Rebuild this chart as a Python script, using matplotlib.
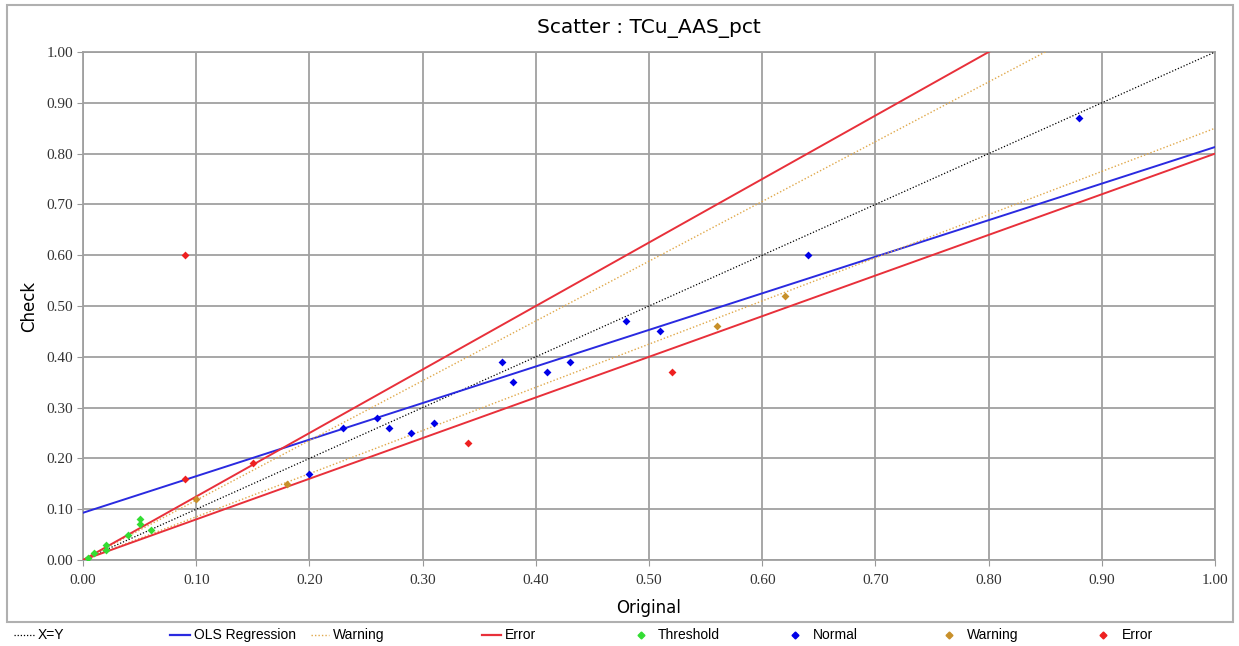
import matplotlib
matplotlib.use("Agg")
import matplotlib.pyplot as plt
from matplotlib.patches import Rectangle
import numpy as np

# scatter data
threshold_x = [0.004, 0.01, 0.02, 0.02, 0.04, 0.05, 0.05, 0.06]
threshold_y = [0.004, 0.013, 0.02, 0.03, 0.05, 0.07, 0.08, 0.06]

normal_x = [0.20, 0.23, 0.26, 0.27, 0.29, 0.31, 0.37, 0.38, 0.41, 0.43, 0.48, 0.51, 0.64, 0.88]
normal_y = [0.17, 0.26, 0.28, 0.26, 0.25, 0.27, 0.39, 0.35, 0.37, 0.39, 0.47, 0.45, 0.60, 0.87]

warning_x = [0.10, 0.18, 0.56, 0.62]
warning_y = [0.12, 0.15, 0.46, 0.52]

error_x = [0.09, 0.09, 0.15, 0.34, 0.52]
error_y = [0.60, 0.16, 0.19, 0.23, 0.37]

# reference lines
ols_intercept = 0.093
ols_slope = 0.72
warn_lo, warn_hi = 0.85, 1 / 0.85
err_lo, err_hi = 0.80, 1 / 0.80

ticks = np.arange(0, 1.01, 0.1)
tick_labels = ["%.2f" % t for t in ticks]

c_xy = "black"
c_ols = "#2a2ae0"
c_warn = "#e0a84a"
c_err = "#e8303a"
c_thr = "#33dd33"
c_norm = "#0000e8"
c_warnpt = "#c8902a"
c_errpt = "#ee2020"
dots = (0, (1, 1.5))

fig = plt.figure(figsize=(12.39, 6.46), dpi=100)
ax = fig.add_axes([0.067, 0.1331, 0.9137, 0.7864])

xs = np.array([0, 1.0])
ax.plot(xs, xs, color=c_xy, ls=dots, lw=0.9, zorder=3)
ax.plot(xs, ols_intercept + ols_slope * xs, color=c_ols, lw=1.4, zorder=3)
ax.plot(xs, warn_hi * xs, color=c_warn, ls=dots, lw=1.0, zorder=3)
ax.plot(xs, warn_lo * xs, color=c_warn, ls=dots, lw=1.0, zorder=3)
ax.plot(xs, err_hi * xs, color=c_err, lw=1.4, zorder=3)
ax.plot(xs, err_lo * xs, color=c_err, lw=1.4, zorder=3)

ms = 16
ax.scatter(threshold_x, threshold_y, marker="D", s=ms, color=c_thr, zorder=4, linewidths=0)
ax.scatter(normal_x, normal_y, marker="D", s=ms, color=c_norm, zorder=4, linewidths=0)
ax.scatter(warning_x, warning_y, marker="D", s=ms, color=c_warnpt, zorder=4, linewidths=0)
ax.scatter(error_x, error_y, marker="D", s=ms, color=c_errpt, zorder=4, linewidths=0)

ax.set_xlim(0, 1)
ax.set_ylim(0, 1)
ax.set_xticks(ticks)
ax.set_yticks(ticks)
ax.set_xticklabels(tick_labels, family="Liberation Serif", fontsize=11, color="#333333")
ax.set_yticklabels(tick_labels, family="Liberation Serif", fontsize=11, color="#333333")
ax.tick_params(axis="x", length=4, color="#999999", pad=6)
ax.tick_params(axis="y", length=4, color="#999999", pad=3)
ax.grid(True, color="#a0a0a0", lw=1.3)
ax.set_axisbelow(True)
for s in ax.spines.values():
    s.set_color("#a0a0a0")
    s.set_linewidth(1.3)

ax.set_title("Scatter : TCu_AAS_pct", fontsize=14.5, pad=14)
ax.set_xlabel("Original", fontsize=12, labelpad=9)
ax.set_ylabel("Check", fontsize=12, labelpad=6)

# frame round the chart
fig.patches.append(Rectangle((7 / 1239, 1 - 622 / 646), 1226 / 1239, 617 / 646,
                             transform=fig.transFigure, fill=False,
                             edgecolor="#b0b0b0", lw=1.5))

# legend row, placed by hand in pixel coordinates
leg = fig.add_axes([0, 0, 1, 1], zorder=-1)
leg.set_xlim(0, 1239)
leg.set_ylim(646, 0)
leg.axis("off")
ly = 635
leg_font = ["Liberation Sans Narrow", "Liberation Sans", "DejaVu Sans"]

line_items = [
    (14, 34, 38, "X=Y", c_xy, dots, 0.9),
    (170, 190, 194, "OLS Regression", c_ols, "-", 1.6),
    (311, 329, 333, "Warning", c_warn, dots, 1.0),
    (482, 501, 505, "Error", c_err, "-", 1.6),
]
for x0, x1, tx, lab, col, style, lw in line_items:
    leg.plot([x0, x1], [ly, ly], color=col, ls=style, lw=lw)
    leg.text(tx, ly, lab, va="center", ha="left", fontsize=10, family=leg_font)

marker_items = [
    (641, 658, "Threshold", c_thr),
    (795, 813, "Normal", c_norm),
    (949, 967, "Warning", c_warnpt),
    (1103, 1122, "Error", c_errpt),
]
for mx, tx, lab, col in marker_items:
    leg.plot([mx], [ly], marker="D", ms=3.5, color=col, ls="none")
    leg.text(tx, ly, lab, va="center", ha="left", fontsize=10, family=leg_font)

fig.savefig("out.png", dpi=100)
